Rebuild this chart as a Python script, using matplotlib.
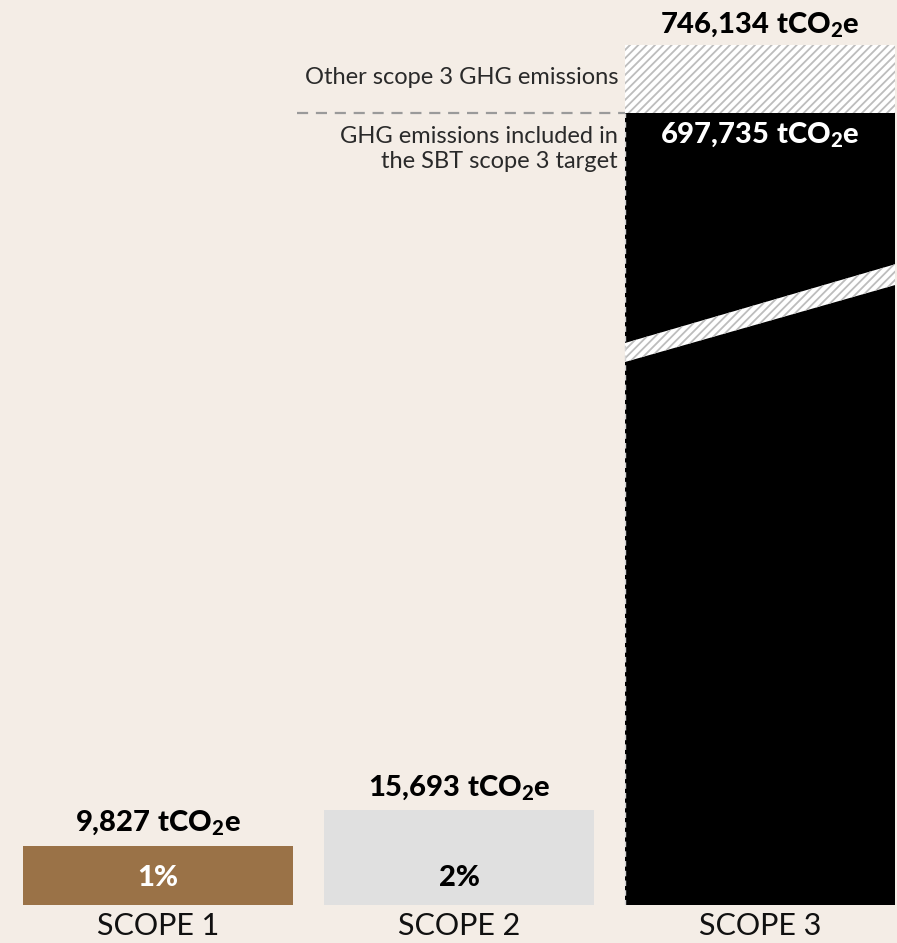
import matplotlib
matplotlib.use("Agg")
import matplotlib.pyplot as plt
import numpy as np

# emissions data (tCO2e)
scopes = ["SCOPE 1", "SCOPE 2", "SCOPE 3"]
totals = [9827, 15693, 746134]
sbt_included = 697735
shares = ["1%", "2%", None]
bar_colors = ["#9a7247", "#e0e0e0", "#000000"]

bg = "#f4ede6"
hatch_col = "#bdbdbd"

plt.rcParams["font.family"] = ["Lato", "DejaVu Sans"]
plt.rcParams["mathtext.fontset"] = "custom"
plt.rcParams["mathtext.rm"] = "Lato:black"
plt.rcParams["mathtext.it"] = "Lato:black"
plt.rcParams["mathtext.bf"] = "Lato:black"
plt.rcParams["hatch.linewidth"] = 1.3

# broken y scale: scope 1/2 in scale, scope 3 compressed
knots_v = np.array([-1e6, 0, 20000, 697735, 746134, 3e6])
knots_p = np.array([-6000, 0, 121, 792, 860, 860 + (3e6 - 746134) * 0.001405])


def fwd(v):
    return np.interp(v, knots_v, knots_p)


def inv(p):
    return np.interp(p, knots_p, knots_v)


fig = plt.figure(figsize=(8.97, 9.43), dpi=100, facecolor=bg)
ax = fig.add_axes([0, 38 / 943, 1, 905 / 943])
ax.set_facecolor(bg)
ax.set_yscale("function", functions=(fwd, inv))

x = np.arange(len(scopes))
w = 270 / 301

lower = [totals[0], totals[1], sbt_included]
ax.bar(x, lower, width=w, color=bar_colors, linewidth=0)
# other scope 3 emissions (hatched)
ax.bar(x[2], totals[2] - sbt_included, bottom=sbt_included, width=w,
       facecolor="white", edgecolor=hatch_col, hatch="////", linewidth=0)

ax.set_xlim(-158 / 301, 2 + 137 / 301)
ax.set_ylim(0, inv(905))

# dashed separator and left edge of scope 3
ax.axhline(sbt_included, xmin=297 / 897, xmax=625 / 897, color="#9a9a9a",
           lw=1.6, dashes=(5, 3.5))
ax.vlines(x[2] - w / 2, 0, sbt_included, color="#d2d2d2", lw=1.0,
          linestyles=(0, (4, 3)))

# axis break stripe
tr = ax.get_xaxis_transform()
x0, x1 = x[2] - w / 2, x[2] + w / 2
stripe = plt.Polygon([(x0, 0.600), (x1, 0.685), (x1, 0.708), (x0, 0.621)],
                     closed=True, transform=tr, facecolor="white",
                     edgecolor=hatch_col, hatch="////", linewidth=0)
ax.add_patch(stripe)

# value labels
def lab(v):
    return "$%s\\ tCO_2e$" % f"{v:,}".replace(",", "{,}")

for i in range(2):
    ax.annotate(lab(totals[i]), (x[i], totals[i]), xytext=(0, 6),
                textcoords="offset points", ha="center", va="bottom",
                fontsize=21, color="black")
    ax.text(x[i], inv(27), shares[i], ha="center", va="center",
            fontsize=21, fontweight="black",
            color="white" if i == 0 else "black")

ax.annotate(lab(totals[2]), (x[2], totals[2]), xytext=(0, 4),
            textcoords="offset points", ha="center", va="bottom",
            fontsize=21, color="black")
ax.annotate(lab(sbt_included), (x[2], sbt_included), xytext=(0, -5),
            textcoords="offset points", ha="center", va="top",
            fontsize=21, color="white")

ax.text(618 / 897, (905 - 78) / 905, "Other scope 3 GHG emissions",
        transform=ax.transAxes, ha="right", va="center", fontsize=17,
        color="#2a2a2a")
ax.text(618 / 897, (905 - 149) / 905,
        "GHG emissions included in\nthe SBT scope 3 target",
        transform=ax.transAxes, ha="right", va="center", fontsize=17,
        color="#2a2a2a", linespacing=1.25)

ax.set_xticks(x)
ax.set_xticklabels(scopes, fontsize=22, fontweight="normal", color="#111111")
ax.tick_params(axis="x", length=0, pad=5)
ax.set_yticks([])
ax.yaxis.set_minor_locator(matplotlib.ticker.NullLocator())
for s in ax.spines.values():
    s.set_visible(False)

fig.savefig("out.png", dpi=100, facecolor=bg)
